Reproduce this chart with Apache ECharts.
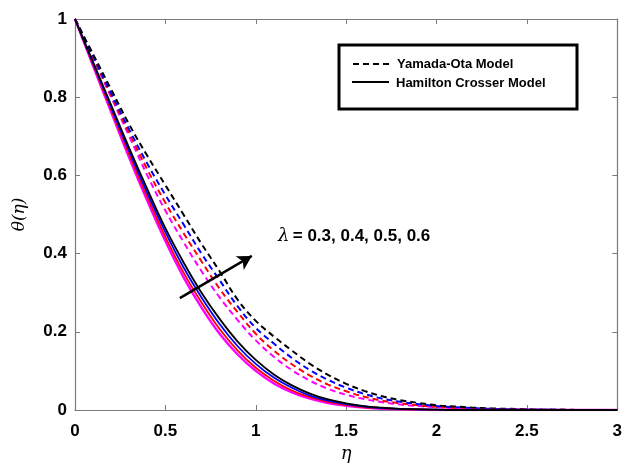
<!DOCTYPE html>
<html>
<head>
<meta charset="utf-8">
<script src="https://cdn.jsdelivr.net/npm/echarts@6/dist/echarts.min.js"></script>
<style>html,body{margin:0;padding:0;background:#fff;}#c{width:625px;height:469px;}</style>
</head>
<body>
<div id="c"></div>
<script>
const eta = [0,0.1,0.2,0.3,0.4,0.5,0.6,0.7,0.8,0.9,1.0,1.1,1.2,1.3,1.4,1.5,1.6,1.7,1.8,1.9,2.0,2.1,2.2,2.3,2.4,2.5,2.6,2.7,2.8,2.9,3.0];
// Yamada-Ota model (dashed)
const yoBlack   = [1,0.91,0.82,0.73,0.65,0.575,0.50,0.425,0.355,0.282,0.228,0.188,0.152,0.118,0.09,0.067,0.049,0.035,0.025,0.018,0.012,0.009,0.006,0.004,0.003,0.002,0.001,0.001,0,0,0];
const yoBlue    = [1,0.905,0.81,0.717,0.63,0.55,0.475,0.40,0.332,0.265,0.21,0.17,0.133,0.102,0.077,0.057,0.041,0.029,0.021,0.015,0.010,0.007,0.005,0.003,0.002,0.001,0.001,0,0,0,0];
const yoRed     = [1,0.902,0.805,0.708,0.615,0.53,0.453,0.38,0.31,0.25,0.195,0.152,0.117,0.088,0.065,0.048,0.034,0.024,0.017,0.012,0.008,0.005,0.004,0.002,0.001,0.001,0,0,0,0,0];
const yoMagenta = [1,0.9,0.80,0.70,0.60,0.51,0.43,0.355,0.288,0.23,0.178,0.136,0.102,0.075,0.054,0.039,0.028,0.02,0.014,0.01,0.007,0.004,0.003,0.002,0.001,0,0,0,0,0,0];
// Hamilton Crosser model (solid)
const hcBlack   = [1,0.89,0.78,0.67,0.565,0.465,0.378,0.30,0.233,0.175,0.128,0.091,0.063,0.042,0.027,0.017,0.01,0.006,0.003,0.002,0.001,0,0,0,0,0,0,0,0,0,0];
const hcBlue    = [1,0.887,0.774,0.662,0.555,0.455,0.365,0.288,0.22,0.163,0.118,0.083,0.057,0.037,0.024,0.015,0.009,0.005,0.003,0.001,0.001,0,0,0,0,0,0,0,0,0,0];
const hcRed     = [1,0.884,0.768,0.654,0.545,0.443,0.352,0.275,0.207,0.152,0.108,0.075,0.05,0.033,0.021,0.013,0.007,0.004,0.002,0.001,0,0,0,0,0,0,0,0,0,0,0];
const hcMagenta = [1,0.88,0.762,0.645,0.535,0.432,0.34,0.262,0.195,0.142,0.1,0.068,0.045,0.029,0.018,0.011,0.006,0.003,0.002,0.001,0,0,0,0,0,0,0,0,0,0,0];
const legendLabels = ['Yamada-Ota Model','Hamilton Crosser Model'];
const annotationValues = '= 0.3, 0.4, 0.5, 0.6';
const arrowFrom = [0.58, 0.286];
const arrowTo = [0.978, 0.394];

const colors = ['#000000','#0000ff','#ff0000','#ff00ff'];
const yoSets = [yoBlack, yoBlue, yoRed, yoMagenta];
const hcSets = [hcBlack, hcBlue, hcRed, hcMagenta];

const pairs = arr => eta.map((e,i)=>[e, arr[i]]);
const series = [];
[3,2,1,0].forEach(k=>{
  series.push({type:'line', data:pairs(yoSets[k]), showSymbol:false, smooth:0.4,
    lineStyle:{color:colors[k], width:2, type:[6,4]}, z:2});
});
[3,2,1,0].forEach(k=>{
  series.push({type:'line', data:pairs(hcSets[k]), showSymbol:false, smooth:0.4,
    lineStyle:{color:colors[k], width: k===3?2.4:1.8}, z:3});
});
series.push({type:'line', data:[], markLine:{silent:true, symbol:['none','arrow'], symbolSize:[12,14],
  lineStyle:{color:'#000', width:2.5, type:'solid'}, label:{show:false},
  data:[[{coord:arrowFrom},{coord:arrowTo}]]}});

const axisColor = '#7a7a7a';
const chart = echarts.init(document.getElementById('c'));
chart.setOption({
  animation:false,
  grid:{left:75, right:7, top:19, bottom:59},
  xAxis:[{type:'value', min:0, max:3, interval:0.5, position:'bottom',
    name:'η', nameLocation:'middle', nameGap:26,
    nameTextStyle:{fontFamily:'DejaVu Serif', fontStyle:'italic', fontSize:18, color:'#000'},
    axisLine:{show:true, lineStyle:{color:axisColor, width:1.2}},
    axisTick:{show:true, inside:true, length:5, lineStyle:{color:axisColor}},
    axisLabel:{fontFamily:'Liberation Sans', fontWeight:'bold', fontSize:17, color:'#000', margin:13,
      formatter:v=>String(v)},
    splitLine:{show:false}},
   {type:'value', min:0, max:3, interval:0.5, position:'top',
    axisLine:{show:true, onZero:false, lineStyle:{color:axisColor, width:1.2}},
    axisTick:{show:true, inside:true, length:5, lineStyle:{color:axisColor}},
    axisLabel:{show:false}, splitLine:{show:false}}],
  yAxis:[{type:'value', min:0, max:1, interval:0.2, position:'left',
    name:'θ(η)', nameLocation:'middle', nameGap:47,
    nameTextStyle:{fontFamily:'DejaVu Serif', fontStyle:'italic', fontSize:17, color:'#000'},
    axisLine:{show:true, lineStyle:{color:axisColor, width:1.2}},
    axisTick:{show:true, inside:true, length:5, lineStyle:{color:axisColor}},
    axisLabel:{fontFamily:'Liberation Sans', fontWeight:'bold', fontSize:17, color:'#000', margin:8,
      formatter:v=>String(v)},
    splitLine:{show:false}},
   {type:'value', min:0, max:1, interval:0.2, position:'right',
    axisLine:{show:true, onZero:false, lineStyle:{color:axisColor, width:1.2}},
    axisTick:{show:true, inside:true, length:5, lineStyle:{color:axisColor}},
    axisLabel:{show:false}, splitLine:{show:false}}],
  series:series,
  graphic:[
    {type:'rect', shape:{x:339, y:45, width:238, height:64}, style:{fill:'#fff', stroke:'#000', lineWidth:3}, z:10},
    {type:'line', shape:{x1:353, y1:64, x2:390, y2:64}, style:{stroke:'#000', lineWidth:2, lineDash:[6,4]}, z:11},
    {type:'line', shape:{x1:352, y1:82, x2:389, y2:82}, style:{stroke:'#000', lineWidth:2}, z:11},
    {type:'text', x:397, y:64, style:{text:legendLabels[0], fontFamily:'Liberation Sans', fontWeight:'bold', fontSize:13, fill:'#000', verticalAlign:'middle'}, z:11},
    {type:'text', x:396, y:83, style:{text:legendLabels[1], fontFamily:'Liberation Sans', fontWeight:'bold', fontSize:13, fill:'#000', verticalAlign:'middle'}, z:11},
    {type:'text', x:278, y:236, style:{text:'{l|λ} {v|' + annotationValues + '}',
      rich:{l:{fontFamily:'DejaVu Serif', fontStyle:'italic', fontSize:18, fill:'#000'},
            v:{fontFamily:'Liberation Sans', fontWeight:'bold', fontSize:17, fill:'#000'}},
      verticalAlign:'middle'}, z:11}
  ]
});
</script>
</body>
</html>
